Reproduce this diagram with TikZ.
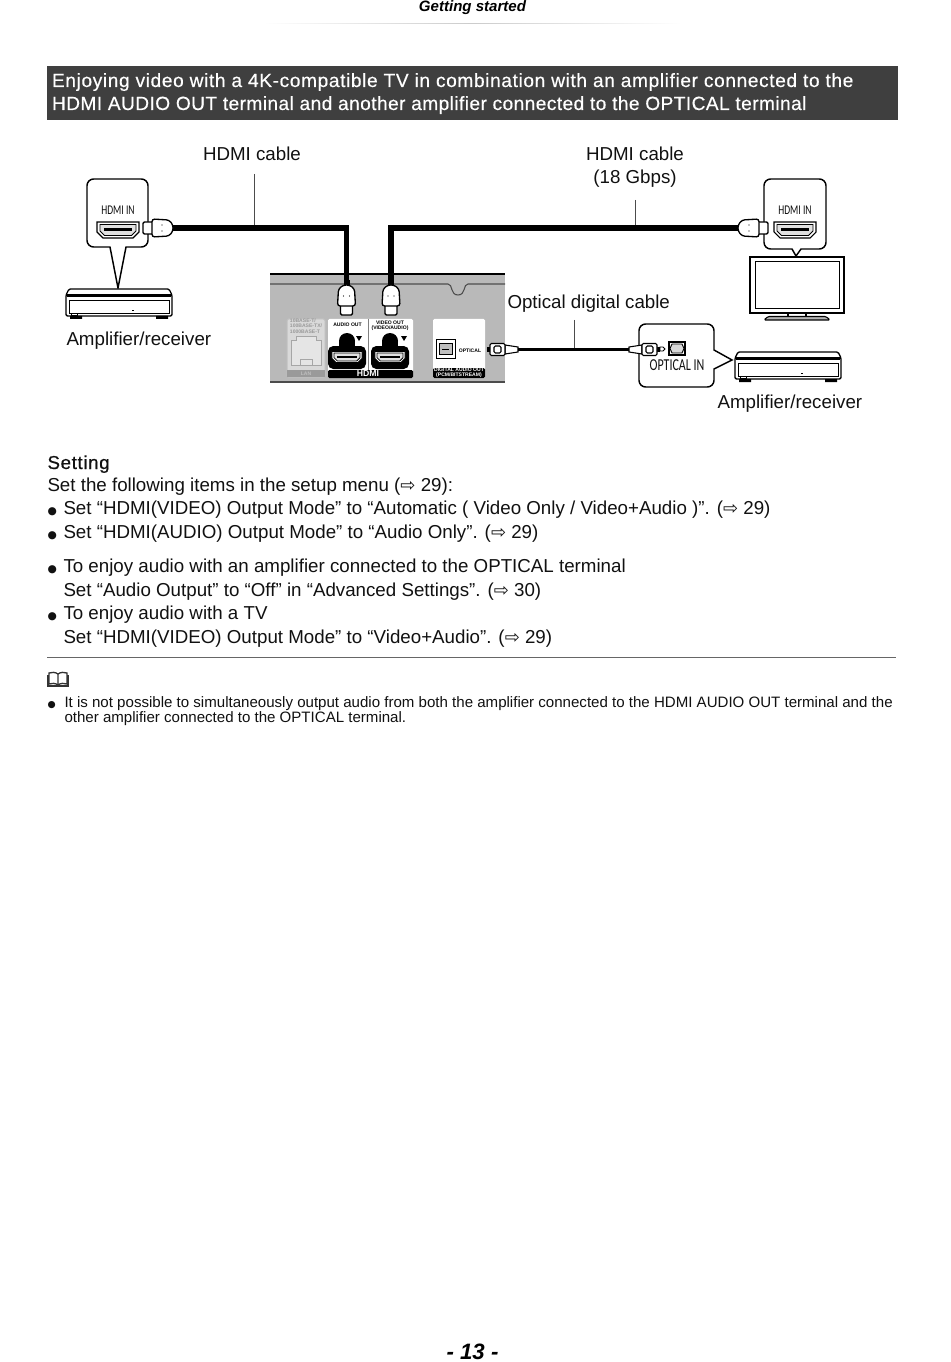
\documentclass[tikz,border=0pt]{standalone}
\usepackage{fontspec}
\setmainfont{Liberation Sans}
\newfontfamily\symfont{DejaVu Sans}
\newfontfamily\portfont[FakeStretch=0.72]{Carlito}
\usetikzlibrary{arrows.meta, positioning, calc, fadings}
\definecolor{cpanel}{HTML}{B9B9B9}
\definecolor{cband}{HTML}{3F3F3F}
\definecolor{cink}{HTML}{111111}
\definecolor{clan}{HTML}{9A9A9A}
\newcommand{\arr}{{\symfont\fontsize{13.5}{13.5}\selectfont ⇨}}
\newcommand{\blt}{{\symfont\fontsize{8}{8}\selectfont ●}}
\tikzset{
  every picture/.style={x=0.75pt, y=-0.75pt, line width=0.75pt},
  body/.style={anchor=base west, inner sep=0pt, text=cink, font=\fontsize{14.05}{14.05}\selectfont},
  label/.style={body, anchor=base},
  note/.style={body, font=\fontsize{11.3}{11.3}\selectfont},
  headline/.style={anchor=base west, inner sep=0pt, text=white, font=\fontsize{14.35}{14.35}\selectfont\addfontfeature{LetterSpace=3.2,FakeBold=0.4}},
  portlabel/.style={inner sep=0pt, text=cink, font=\portfont\fontsize{10}{10}\selectfont},
  tiny/.style={inner sep=0pt, align=center, font=\bfseries\fontsize{3.8}{3.9}\selectfont},
  callout/.style={draw=black, fill=white, line width=1.1pt},
  hdmicable/.style={draw=black, line width=3.9pt},
  opticable/.style={draw=black, line width=2.4pt},
  leader/.style={draw=black!70, line width=0.5pt},
  pics/hdmiplug/.style={code={
    \coordinate (-end) at (0,0);
    \fill[black] (0,-3) rectangle (5,3);
    \draw[fill=white, line width=1pt, rounded corners=1pt] (24,-6) rectangle (35,6);
    \draw[fill=white, line width=1pt, rounded corners=2pt] (5,-3) -- (9,-8) -- (26,-9) -- (26,9) -- (9,8) -- (5,3) -- cycle;
    \fill (16,-3) circle (0.7) (16,3) circle (0.7);
  }},
  pics/hdmiport/.style={code={
    \draw[fill=white, line width=0.8pt] (-21,-8) -- (21,-8) -- (21,2) -- (15,8) -- (-15,8) -- (-21,2) -- cycle;
    \draw[fill=black!12, line width=0.6pt] (-18,-5.5) -- (18,-5.5) -- (18,1) -- (13.5,5.5) -- (-13.5,5.5) -- (-18,1) -- cycle;
    \fill[black] (-14,-1.5) rectangle (14,1.5);
  }},
  pics/amplifier/.style={code={
    \draw[fill=white, line width=1pt, rounded corners=1pt] (0,6) -- (3,0) -- (103,0) -- (106,6) -- (106,27) -- (0,27) -- cycle;
    \fill[black] (1,5) rectangle (105,8);
    \draw[line width=0.4pt] (3,11) -- (103,11) (3,11) -- (3,24) -- (103,24) -- (103,11);
    \fill[black] (4,27) rectangle (16,30) (90,27) rectangle (102,30);
    \fill[black] (66,21) rectangle (68,22);
    \draw[line width=0.3pt] (5,24) rectangle (11,26);
  }},
  pics/optplug/.style={code={
    \coordinate (-end) at (0,0);
    \draw[fill=white, line width=0.8pt] (0,-2.5) -- (13,-4.5) -- (13,4.5) -- (0,2.5) -- cycle;
    \draw[fill=white, line width=0.8pt] (28,-2) rectangle (30,2);
    \draw[fill=white, line width=0.8pt, rounded corners=1pt] (13,-6) rectangle (28,6);
    \draw[line width=0.8pt, rounded corners=1pt] (17,-3.5) rectangle (24,3.5);
  }},
}
\begin{document}
\begin{tikzpicture}[
    panelport/.style={fill=black, rounded corners=4pt},
    whitebox/.style={fill=white, rounded corners=1pt},
  ]
  \useasboundingbox[fill=white] (0,0) rectangle (950,1362);

  % ---- page head
  \node[anchor=base, inner sep=0pt, font=\bfseries\itshape\fontsize{11.3}{11.3}\selectfont] (pagehead) at (472.5,12) {Getting started};
  \fill[black!25, path fading=east, opacity=.8] (472,23) rectangle (680,23.8);
  \fill[black!25, path fading=west, opacity=.8] (265,23) rectangle (472,23.8);

  \fill[cband] (47,66) rectangle (898,120);
  \node[headline] (headone) at (51.5,87) {Enjoying video with a 4K-compatible TV in combination with an amplifier connected to the};
  \node[headline] (headtwo) at (51.5,110) {\addfontfeature{LetterSpace=2.2}HDMI AUDIO OUT terminal and another amplifier connected to the OPTICAL terminal};

  % ---- back panel
  \fill[cpanel] (270,274) rectangle (505,382);
  \draw[line width=1pt] (270,274) -- (505,274);
  \draw[black!70, line width=0.8pt] (270,284) -- (448,284) .. controls (453,284) and (450,295) .. (458,295) .. controls (466,295) and (463,284) .. (468,284) -- (505,284);
  \draw[black!70, line width=0.8pt] (270,382) -- (505,382);

  % LAN
  \draw[black!25, fill=black!15, rounded corners=1pt] (287,319) rectangle (325,377);
  \fill[clan] (287,370) rectangle (325,377);
  \node[tiny, text=black!40, align=left] (lantext) at (306,326) {10BASE-T/\\100BASE-TX/\\1000BASE-T};
  \node[tiny, text=black!25] (lanname) at (306,373.5) {LAN};
  \draw[black!35, fill=black!10, line width=0.6pt] (291,340) -- (296,340) -- (296,336) -- (316,336) -- (316,340) -- (321,340) -- (321,365) -- (291,365) -- cycle;
  \draw[black!35, line width=0.6pt] (300,359) rectangle (312,365);

  % HDMI terminals
  \fill[whitebox] (328,319) rectangle (413,372);
  \fill[black, rounded corners=1pt] (328,370) rectangle (413,378);
  \draw[black!50, line width=0.5pt] (368.5,319) -- (368.5,370);
  \node[tiny, text=black] (audioout) at (347.5,325) {AUDIO OUT};
  \node[tiny, text=black] (videoout) at (390,326) {VIDEO OUT\\(VIDEO/AUDIO)};
  \node[inner sep=0pt, text=white, font=\bfseries\fontsize{6.5}{6.5}\selectfont] (hdmilogo) at (368,374) {HDMI};
  \foreach \px/\tx in {347/359, 390/404} {
    \fill[black] (\px,341) circle (8);
    \fill[black] (\px-8,341) rectangle (\px+8,350);
    \fill[black] (\tx-3,336) -- (\tx+3,336) -- (\tx,341) -- cycle;
  }
  \fill[panelport] (328,346) rectangle (366,369);
  \fill[panelport] (371,346) rectangle (409,369);
  \pic[scale=.72] (portaudio) at (347,357) {hdmiport};
  \pic[scale=.72] (portvideo) at (390,357) {hdmiport};

  % optical terminal
  \fill[whitebox] (433,319) rectangle (485,378);
  \fill[black, rounded corners=1pt] (433,368) rectangle (485,378);
  \node[tiny, text=white] (digout) at (459,373) {DIGITAL AUDIO OUT\\(PCM/BITSTREAM)};
  \node[tiny, text=black] (optname) at (470,351) {OPTICAL};
  \draw[fill=white, line width=0.7pt] (436,339) rectangle (455,358);
  \draw[fill=black!25, line width=0.7pt] (439,343) -- (452,343) -- (452,354) -- (439,354) -- cycle;
  \draw[line width=0.7pt] (442,349) -- (449,349);

  % ---- amplifier, left
  \draw[callout, rounded corners=5pt] (118,179) -- (148,179) -- (148,247) [sharp corners] -- (126,247) -- (118,288) -- (110,247) [rounded corners=5pt] -- (87,247) -- (87,179) -- cycle;
  \node[portlabel] (hdmiinleft) at (118,210) {HDMI IN};
  \pic (portleft) at (118,230) {hdmiport};
  \pic (ampleft) at (66,289) {amplifier};
  \node[body] (ampleftlabel) at (66,345) {Amplifier/receiver};

  % ---- TV
  \draw[black, fill=white, line width=1pt] (750,257) rectangle (844,313);
  \draw[black, line width=0.7pt] (755,261) rectangle (839,308);
  \draw[black, fill=white, line width=0.8pt] (788,313) rectangle (806,317);
  \draw[black, fill=black!30, line width=0.8pt, rounded corners=1pt] (764,320) -- (768,316.5) -- (826,316.5) -- (830,320) -- cycle;
  \draw[callout, rounded corners=5pt] (795,179) -- (826,179) -- (826,249) [sharp corners] -- (801,249) -- (796,256) -- (792,249) [rounded corners=5pt] -- (764,249) -- (764,179) -- cycle;
  \node[portlabel] (hdmiinright) at (795,210) {HDMI IN};
  \pic (portright) at (795,230) {hdmiport};

  % ---- amplifier, right
  \draw[callout, rounded corners=5pt] (676,324) -- (714,324) [sharp corners] -- (714,350) -- (732,360) -- (714,369) [rounded corners=5pt] -- (714,387) -- (639,387) -- (639,324) -- cycle;
  \node[portlabel, font=\portfont\fontsize{12.5}{12.5}\selectfont] (optin) at (677,365) {OPTICAL IN};
  \draw[line width=0.8pt] (669,342) rectangle (685,355);
  \draw[line width=0.7pt, fill=black!15] (672,344) -- (682,344) -- (684,348.5) -- (682,353) -- (672,353) -- (670,348.5) -- cycle;
  \draw[line width=0.6pt, fill=white] (660,347) -- (663,347) -- (665,349) -- (663,351) -- (660,351) -- cycle;
  \pic (ampright) at (735,352) {amplifier};
  \node[body] (amprightlabel) at (717,408) {Amplifier/receiver};

  % ---- cables
  \coordinate (elbowa) at (346.5,228);
  \coordinate (elbowb) at (391,228);
  \coordinate (tapa) at (254,228);
  \coordinate (tapb) at (635,228);
  \coordinate (tapc) at (574,349.5);
  \coordinate (topa) at (254,174);
  \coordinate (topb) at (635,200);
  \coordinate (topc) at (574,320);
  \draw[leader] (topa) -- (tapa);
  \draw[leader] (topb) -- (tapb);
  \draw[leader] (topc) -- (tapc);
  \pic[rotate=180] (plugleft) at (178,228) {hdmiplug};
  \pic (plugright) at (733,228) {hdmiplug};
  \pic[rotate=-90] (plugaudio) at (346.5,280) {hdmiplug};
  \pic[rotate=-90] (plugvideo) at (391,280) {hdmiplug};
  \pic[rotate=180] (optback) at (518,349.5) {optplug};
  \pic (optamp) at (629,349.5) {optplug};
  \draw[hdmicable] (plugleft-end) -- (elbowa) -- (plugaudio-end);
  \draw[hdmicable] (plugright-end) -- (elbowb) -- (plugvideo-end);
  \draw[opticable] (optback-end) -- (optamp-end);

  \node[label] (hdmicablea) at (252,161) {HDMI cable};
  \node[label] (hdmicableb) at (635,161) {HDMI cable};
  \node[label] (gbps) at (635,184) {(18 Gbps)};
  \node[body] (optcable) at (507,309) {Optical digital cable};

  % ---- setting text
  \node[body] (setting) at (47,469) {\addfontfeature{FakeBold=0.5,LetterSpace=3.4}Setting};
  \node[body] (lineone) at (47,491) {Set the following items in the setup menu (\arr{} 29):};
  \foreach \nm/\yy/\txt in {
    bula/514/{Set “HDMI(VIDEO) Output Mode” to “Automatic ( Video Only / Video+Audio )”. (\arr{} 29)},
    bulb/538/{Set “HDMI(AUDIO) Output Mode” to “Audio Only”. (\arr{} 29)},
    bulc/572/{To enjoy audio with an amplifier connected to the OPTICAL terminal},
    buld/619/{To enjoy audio with a TV}} {
    \node[body] (\nm) at (63,\yy) {\txt};
    \node[body] (\nm dot) at (47,\yy) {\blt};
  }
  \node[body] (subc) at (63,596) {Set “Audio Output” to “Off” in “Advanced Settings”. (\arr{} 30)};
  \node[body] (subd) at (63,643) {Set “HDMI(VIDEO) Output Mode” to “Video+Audio”. (\arr{} 29)};
  \draw[black!60, line width=0.8pt] (47,657.5) -- (896,657.5);

  % ---- note
  \draw[black!80, line width=1pt] (58,674) .. controls (55,672) and (52,672) .. (49,673) -- (49,684) .. controls (52,683) and (55,683) .. (58,685) .. controls (61,683) and (64,683) .. (67,684) -- (67,673) .. controls (64,672) and (61,672) .. (58,674) -- (58,685);
  \draw[black!80, line width=0.8pt] (48,675) -- (48,686) -- (68,686) -- (68,675);
  \node[note] (notedot) at (47,707) {{\symfont\fontsize{7}{7}\selectfont ●}};
  \node[note] (noteone) at (64,707) {It is not possible to simultaneously output audio from both the amplifier connected to the HDMI AUDIO OUT terminal and the};
  \node[note] (notetwo) at (64,722) {other amplifier connected to the OPTICAL terminal.};

  \node[anchor=base, inner sep=0pt, font=\bfseries\itshape\fontsize{16.7}{16.7}\selectfont] (pagenum) at (472.5,1359) {- 13 -};
\end{tikzpicture}
\end{document}
